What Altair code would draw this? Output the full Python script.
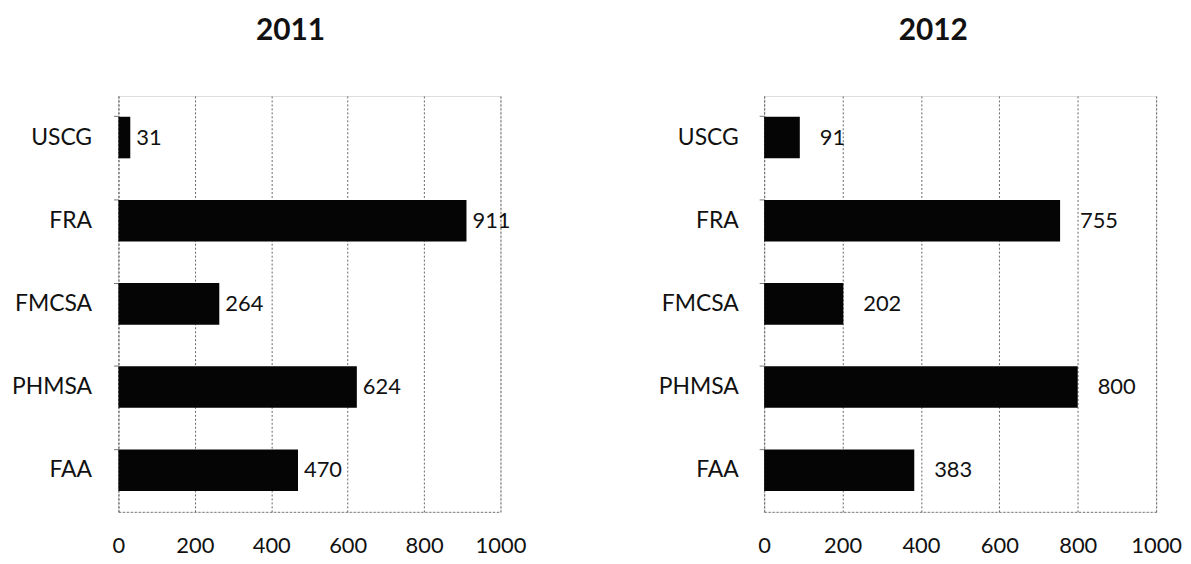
import altair as alt
import pandas as pd

agencies = ["USCG", "FRA", "FMCSA", "PHMSA", "FAA"]
values_2011 = [31, 911, 264, 624, 470]
values_2012 = [91, 755, 202, 800, 383]
x_ticks = [0, 200, 400, 600, 800, 1000]

FONT = "Lato"

def panel(year, values, width, label_pad, dx, title_dx):
    df = pd.DataFrame({"agency": agencies, "value": values})
    y = alt.Y("agency:N", sort=agencies, title=None,
              scale=alt.Scale(paddingInner=0.5, paddingOuter=0.25),
              axis=alt.Axis(labelFont=FONT, labelFontSize=23, labelColor="#111",
                            labelPadding=label_pad, bandPosition=0, tickSize=5,
                            tickColor="#777", domainColor="#777", domainDash=[2, 2],
                            grid=False))
    x = alt.X("value:Q", title=None,
              scale=alt.Scale(domain=[0, 1000], nice=False),
              axis=alt.Axis(values=x_ticks, format="d", labelOverlap=False,
                            labelFlush=False,
                            labelFont=FONT, labelFontSize=22,
                            labelColor="#111", labelPadding=24, ticks=False,
                            domainColor="#777", domainDash=[2, 2],
                            grid=True, gridColor="#666", gridDash=[2, 2],
                            gridWidth=1))
    bars = alt.Chart(df).mark_bar(color="#050505").encode(x=x, y=y)
    text = alt.Chart(df).mark_text(align="left", baseline="middle", dx=dx,
                                   font=FONT, fontSize=22, color="#111").encode(
        x="value:Q", y=alt.Y("agency:N", sort=agencies), text="value:Q")
    return (bars + text).properties(
        width=width, height=418,
        title=alt.TitleParams(str(year), font=FONT, fontSize=30, fontWeight="bold",
                              color="#111", offset=50, dx=title_dx, anchor="middle"))

left = panel(2011, values_2011, 384, 22, 6, -19)
right = panel(2012, values_2012, 394, 21, 20, -27)

chart = alt.hconcat(left, right, spacing=131).properties(
    padding={"top": 6, "left": 3, "right": 0, "bottom": 0}
).configure_view(stroke=None).configure(background="white")

chart.save("out.html", embed_options={"renderer": "svg", "actions": False})
